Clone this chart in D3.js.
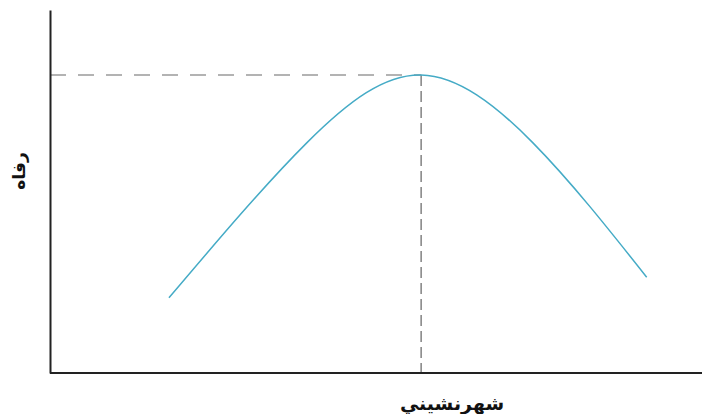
<!DOCTYPE html>
<html>
<head>
<meta charset="utf-8">
<script src="https://cdn.jsdelivr.net/npm/d3@7"></script>
<style>
  body { margin: 0; background: #fff; }
  text { font-family: Tahoma, 'DejaVu Sans', sans-serif; font-weight: bold; }
</style>
</head>
<body>
<svg id="chart" width="702" height="414"></svg>
<script>
// curve (abstract units 0..100)
var urbanisation = [18.3, 39.5, 57.1, 74.3, 91.8]
var welfare = [20.7, 63.4, 82.1, 63.4, 26.4]
var peak = [57.1, 82.1]
var xLabel = 'شهرنشيني'
var yLabel = 'رفاه'

var points = urbanisation.map(function(d, i) {
  return { x: d, y: welfare[i] }
})

var svg = d3.select('#chart')

var xScale = d3.scaleLinear().domain([0, 100]).range([50, 700])
var yScale = d3.scaleLinear().domain([0, 100]).range([373, 10])

// dashed guides to the peak
svg
  .append('line')
  .attr('x1', xScale(0))
  .attr('x2', xScale(peak[0]))
  .attr('y1', yScale(peak[1]))
  .attr('y2', yScale(peak[1]))
  .attr('stroke', '#9a9a9a')
  .attr('stroke-width', 1.6)
  .attr('stroke-dasharray', '16,12')

svg
  .append('line')
  .attr('x1', xScale(peak[0]))
  .attr('x2', xScale(peak[0]))
  .attr('y1', yScale(peak[1]))
  .attr('y2', yScale(0))
  .attr('stroke', '#8a8a8a')
  .attr('stroke-width', 1.6)
  .attr('stroke-dasharray', '11,5')

// the curve
var line = d3
  .line()
  .x(function(d) { return xScale(d.x) })
  .y(function(d) { return yScale(d.y) })
  .curve(d3.curveNatural)

svg
  .append('path')
  .datum(points)
  .attr('d', line)
  .attr('fill', 'none')
  .attr('stroke', '#45abc6')
  .attr('stroke-width', 1.5)

// axes without ticks
svg
  .append('g')
  .attr('transform', 'translate(0,' + yScale(0) + ')')
  .call(d3.axisBottom(xScale).ticks(0).tickSize(0).tickSizeOuter(0).tickFormat(''))
  .call(function(g) {
    g.select('.domain').attr('stroke', '#222').attr('stroke-width', 2).attr('d', 'M' + xScale(0) + ',0H702')
  })

svg
  .append('g')
  .attr('transform', 'translate(' + xScale(0) + ',0)')
  .call(d3.axisLeft(yScale).ticks(0).tickSize(0).tickSizeOuter(0).tickFormat(''))
  .call(function(g) {
    g.select('.domain').attr('stroke', '#222').attr('stroke-width', 2)
  })

// labels
svg
  .append('text')
  .attr('x', 452)
  .attr('y', 410)
  .attr('text-anchor', 'middle')
  .attr('font-size', 19)
  .attr('fill', '#111')
  .text(xLabel)

svg
  .append('text')
  .attr('transform', 'translate(25,171) rotate(-90)')
  .attr('text-anchor', 'middle')
  .attr('font-size', 17)
  .attr('fill', '#111')
  .text(yLabel)
</script>
</body>
</html>
